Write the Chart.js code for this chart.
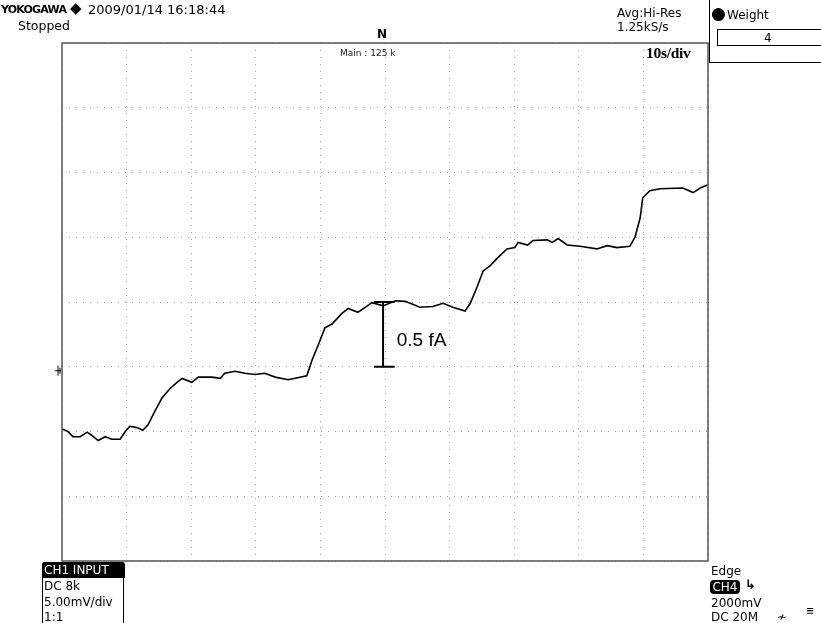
<!DOCTYPE html>
<html lang="en">
<head>
<meta charset="UTF-8">
<title>YOKOGAWA</title>
<script src="https://cdn.jsdelivr.net/npm/chart.js@4.4.1/dist/chart.umd.min.js"></script>
<style>
    html, body { margin:0; padding:0; background:#fff; }
    #wrap { position:relative; width:821px; height:623px; overflow:hidden; font-family:"DejaVu Sans", sans-serif; color:#000; }
    #wrap canvas { position:absolute; left:0; top:0; }
    .t { position:absolute; white-space:nowrap; font-size:12px; line-height:14px; }
    .ln { position:absolute; background:#000; }
</style>
</head>
<body>
<div id="wrap">
    <canvas id="scope" width="821" height="623"></canvas>

    <div class="t" style="left:1px; top:3px; font-family:'DejaVu Sans'; font-weight:bold; font-size:11px; letter-spacing:-0.8px;">YOKOGAWA</div>
    <div class="t" style="left:70px; top:1px; font-size:15px;">&#9670;</div>
    <div class="t" style="left:88px; top:3px; font-size:13px;">2009/01/14 16:18:44</div>
    <div class="t" style="left:18px; top:19px; font-size:12.5px;">Stopped</div>
    <div class="t" style="left:377px; top:27px; font-size:12px; font-weight:bold;">N</div>
    <div class="t" style="left:340px; top:46px; font-size:9px; color:#222;">Main : 125 k</div>
    <div class="t" style="left:617px; top:6px; font-size:12px;">Avg:Hi-Res</div>
    <div class="t" style="left:617px; top:20px; font-size:12px;">1.25kS/s</div>
    <div class="t" style="left:646px; top:46px; font-family:'Liberation Serif'; font-weight:bold; font-size:15.5px; letter-spacing:-0.3px;">10s/div</div>

    <div class="ln" style="left:709px; top:0; width:1px; height:63px;"></div>
    <div class="ln" style="left:709px; top:62px; width:112px; height:1px;"></div>
    <div class="t" style="left:711px; top:4px; font-size:17px; line-height:18px;">&#9679;</div>
    <div class="t" style="left:727px; top:8px; font-size:12px;">Weight</div>
    <div style="position:absolute; left:717px; top:29px; width:110px; height:15px; border:1.5px solid #000;"></div>
    <div class="t" style="left:764px; top:31px; font-size:12px;">4</div>

    <div style="position:absolute; left:42px; top:562px; width:80px; height:70px; border:1.5px solid #000; border-radius:3px;"></div>
    <div class="t" style="left:42px; top:562px; width:83px; height:16px; background:#000; color:#fff; font-size:12px; line-height:16px; padding-left:2px; box-sizing:border-box; border-radius:3px 3px 0 0;">CH1 INPUT</div>
    <div class="t" style="left:44px; top:579px; font-size:12px;">DC 8k</div>
    <div class="t" style="left:44px; top:595px; font-size:12px;">5.00mV/div</div>
    <div class="t" style="left:44px; top:610px; font-size:12px;">1:1</div>

    <div class="t" style="left:711px; top:564px; font-size:12px;">Edge</div>
    <div class="t" style="left:710px; top:580px; width:30px; height:14px; background:#000; color:#fff; font-size:12px; line-height:14px; text-align:center; border-radius:4px;">CH4</div>
    <div class="t" style="left:745px; top:578px; font-size:13px; font-weight:bold;">&#8627;</div>
    <div class="t" style="left:711px; top:596px; font-size:12px;">2000mV</div>
    <div class="t" style="left:711px; top:610px; font-size:12px;">DC 20M</div>
    <div class="t" style="left:777px; top:610px; font-size:12px;">&#8769;</div>
    <div class="t" style="left:806px; top:604px; font-size:10px; font-weight:bold;">&#8801;</div>
</div>

<script>
    // time in s (10 s/div), signal in mV (5 mV/div)
    const timeS = [0, 0.9, 1.7, 2.8, 3.9, 4.6, 5.6, 6.7, 7.7, 9.0, 9.8, 10.5, 11.6, 12.5, 13.3, 14.4,
        15.5, 16.7, 17.8, 18.6, 20.1, 21.1, 23.2, 24.5, 25.2, 26.8, 28.3, 29.9, 31.4, 33.0, 35.0, 37.9,
        38.7, 39.6, 40.7, 41.8, 43.3, 44.3, 45.8, 48.0, 49.7, 51.6, 53.1, 53.9, 55.4, 57.4, 59.0, 60.5,
        62.4, 63.2, 64.2, 65.2, 66.3, 67.3, 68.9, 70.1, 70.6, 72.1, 72.9, 75.1, 75.9, 76.8, 78.2, 80.2,
        82.8, 84.4, 85.9, 87.9, 88.7, 89.5, 89.9, 91.0, 92.6, 96.1, 97.7, 98.8, 100];
    const signalMV = [-9.8, -10.0, -10.4, -10.4, -10.05, -10.3, -10.7, -10.4, -10.6, -10.6, -10.0, -9.6, -9.7, -9.9, -9.5, -8.4,
        -7.4, -6.7, -6.2, -5.9, -6.2, -5.8, -5.8, -5.9, -5.5, -5.35, -5.5, -5.6, -5.5, -5.8, -6.0, -5.7,
        -4.5, -3.4, -2.0, -1.7, -0.9, -0.5, -0.8, -0.05, -0.3, 0.1, 0.05, -0.1, -0.4, -0.35, -0.1, -0.4,
        -0.7, -0.1, 1.1, 2.4, 2.8, 3.35, 4.1, 4.2, 4.6, 4.4, 4.75, 4.8, 4.6, 4.9, 4.4, 4.3,
        4.1, 4.35, 4.2, 4.3, 5.0, 6.5, 8.05, 8.6, 8.75, 8.8, 8.45, 8.8, 9.05];

    // scale bar: one division = 0.5 fA
    const barTime = 49.7;
    const barTop = 0;
    const barBottom = -5;
    const barCap = [48.3, 51.5];
    const barLabel = "0.5 fA";
    const groundLevel = -5;

    const trace = timeS.map((t, i) => ({x: t, y: signalMV[i]}));

    const frame = {
        id: 'frame',
        afterDraw(chart) {
            const c = chart.ctx, a = chart.chartArea;
            const xs = chart.scales.x, ys = chart.scales.y;
            c.save();
            c.setLineDash([]);
            c.strokeStyle = '#555';
            c.lineWidth = 1.5;
            c.strokeRect(a.left, a.top, a.right - a.left, a.bottom - a.top);
            // scale bar label
            c.fillStyle = '#000';
            c.font = '19px "Liberation Sans Narrow", "Liberation Sans", sans-serif';
            c.textBaseline = 'middle';
            c.fillText(barLabel, xs.getPixelForValue(barCap[1]) + 2, ys.getPixelForValue((barTop + barBottom) / 2) + 6);
            // ground marker
            const gy = ys.getPixelForValue(groundLevel) + 4;
            c.lineWidth = 1;
            c.strokeStyle = '#000';
            c.beginPath();
            c.moveTo(a.left - 7, gy); c.lineTo(a.left - 1, gy);
            c.moveTo(a.left - 4, gy - 5); c.lineTo(a.left - 4, gy + 5);
            c.moveTo(a.left - 2, gy - 3); c.lineTo(a.left - 2, gy + 3);
            c.stroke();
            c.restore();
        }
    };

    const ctx = document.getElementById('scope').getContext('2d');
    new Chart(ctx, {
        type: 'line',
        data: {
            datasets: [
                { data: trace, borderColor: '#000', borderWidth: 1.6, pointRadius: 0, tension: 0 },
                { data: [{x: barTime, y: barTop}, {x: barTime, y: barBottom}], borderColor: '#000', borderWidth: 2, pointRadius: 0 },
                { data: [{x: barCap[0], y: barTop}, {x: barCap[1], y: barTop}], borderColor: '#000', borderWidth: 2, pointRadius: 0 },
                { data: [{x: barCap[0], y: barBottom}, {x: barCap[1], y: barBottom}], borderColor: '#000', borderWidth: 2, pointRadius: 0 }
            ]
        },
        options: {
            responsive: false,
            animation: false,
            layout: { padding: { left: 62, top: 43, right: 113, bottom: 62 } },
            plugins: { legend: { display: false }, tooltip: { enabled: false } },
            scales: {
                x: {
                    type: 'linear', min: 0, max: 100,
                    ticks: { display: false, stepSize: 10 },
                    grid: { color: '#a0a0a0', lineWidth: 1, drawTicks: false },
                    border: { display: false, dash: [1, 6] }
                },
                y: {
                    type: 'linear', min: -20, max: 20,
                    ticks: { display: false, stepSize: 5 },
                    grid: { color: '#a0a0a0', lineWidth: 1, drawTicks: false },
                    border: { display: false, dash: [1, 6] }
                }
            }
        },
        plugins: [frame]
    });
</script>
</body>
</html>
